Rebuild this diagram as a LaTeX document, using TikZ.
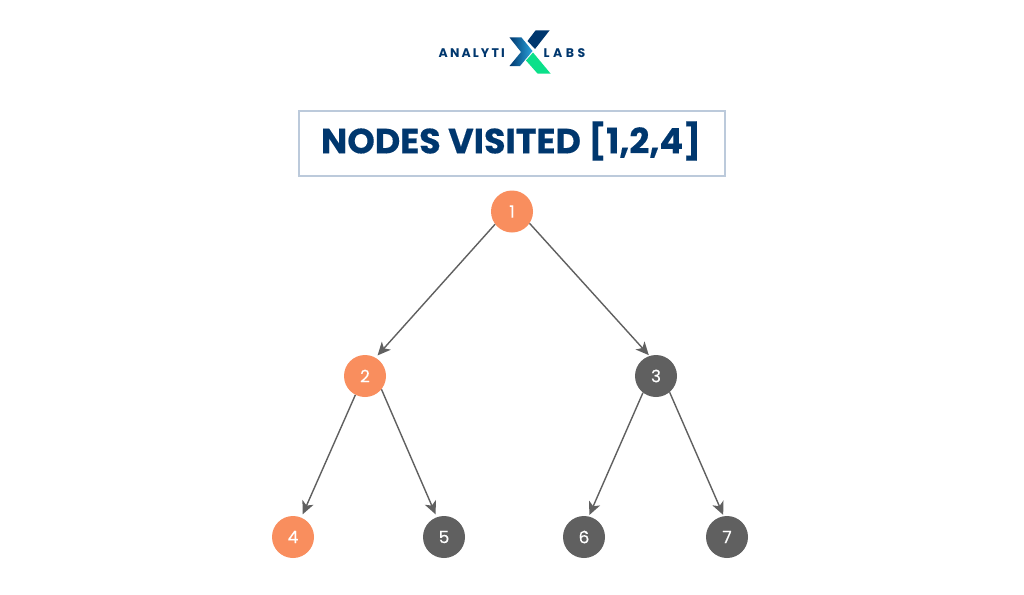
\documentclass[tikz,border=0pt]{standalone}
\usepackage{fontspec}
\setmainfont{Poppins}
\newfontfamily\titlefont[FakeBold=0.35]{Poppins Bold}
\newfontfamily\digitfont[FakeBold=0.25]{Poppins}
\usetikzlibrary{arrows.meta}
\definecolor{navy}{HTML}{00376E}
\definecolor{boxline}{HTML}{BCCADB}
\definecolor{orangeN}{HTML}{F98E5E}
\definecolor{greyN}{HTML}{606060}
\definecolor{lnk}{HTML}{606060}
\definecolor{mint}{HTML}{0BE08A}
\definecolor{skyb}{HTML}{2BA3DC}
\tikzset{
 x=1pt,y=-1pt,
 vis/.style={circle,fill=orangeN,minimum size=42pt,inner sep=0pt,text=white,font=\fontsize{17}{17}\selectfont\digitfont},
 unvis/.style={circle,fill=greyN,minimum size=42pt,inner sep=0pt,text=white,font=\fontsize{17}{17}\selectfont\digitfont},
 edge/.style={draw=lnk,line width=1.4pt,-{Stealth[length=13pt,width=12pt,inset=3.5pt]}},
 logotext/.style={text=navy,font=\fontsize{12.5}{13}\selectfont\bfseries,inner sep=0pt}
}
\begin{document}
\begin{tikzpicture}
\useasboundingbox (0,0) rectangle (1024,594);
\fill[white] (0,0) rectangle (1024,594);
% logo
\node[logotext,anchor=base west] (la) at (438.5,57) {\addfontfeature{LetterSpace=17}ANALYTI};
\node[logotext,anchor=base west] (lb) at (543.5,57) {\addfontfeature{LetterSpace=28}LABS};
\fill[navy] (535.5,30.5) -- (549.5,30.5) -- (535,49) -- (527.5,41) -- cycle;
\shade[left color=navy,right color=skyb] (509.5,37.5) -- (521.5,37.5) -- (532.5,51) -- (520,66) -- (509.5,66) -- (521,52) -- cycle;
\fill[mint] (533,52.5) -- (550.5,73.5) -- (537.5,73.5) -- (526,60.5) -- cycle;
% title
\node[draw=boxline,line width=1.2pt,minimum width=426pt,minimum height=65pt,inner sep=0pt] (title) at (512,143.5) {};
\node[text=navy,font=\fontsize{35}{35}\selectfont\titlefont,inner sep=0pt] (tt) at (511,141) {NODES VISITED [1,2,4]};
% tree
\node[vis] (n1) at (512,211.5) {1};
\node[vis] (n2) at (365,376) {2};
\node[unvis] (n3) at (656,376) {3};
\node[vis] (n4) at (293,537) {4};
\node[unvis] (n5) at (444,537) {5};
\node[unvis] (n6) at (584,537) {6};
\node[unvis] (n7) at (727,537) {7};
\draw[edge,shorten >=3pt] (n1.-143.6) -- (n2.60.9);
\draw[edge,shorten >=1pt] (n1.-34) -- (n3.108.4);
\draw[edge,shorten >=3.5pt] (n2.-117.8) -- (n4.67.7);
\draw[edge,shorten >=3pt] (n2.-39) -- (n5.110);
\draw[edge,shorten >=1.5pt] (n3.-128.5) -- (n6.77);
\draw[edge,shorten >=1.3pt] (n3.-50.6) -- (n7.99.5);
\end{tikzpicture}
\end{document}
